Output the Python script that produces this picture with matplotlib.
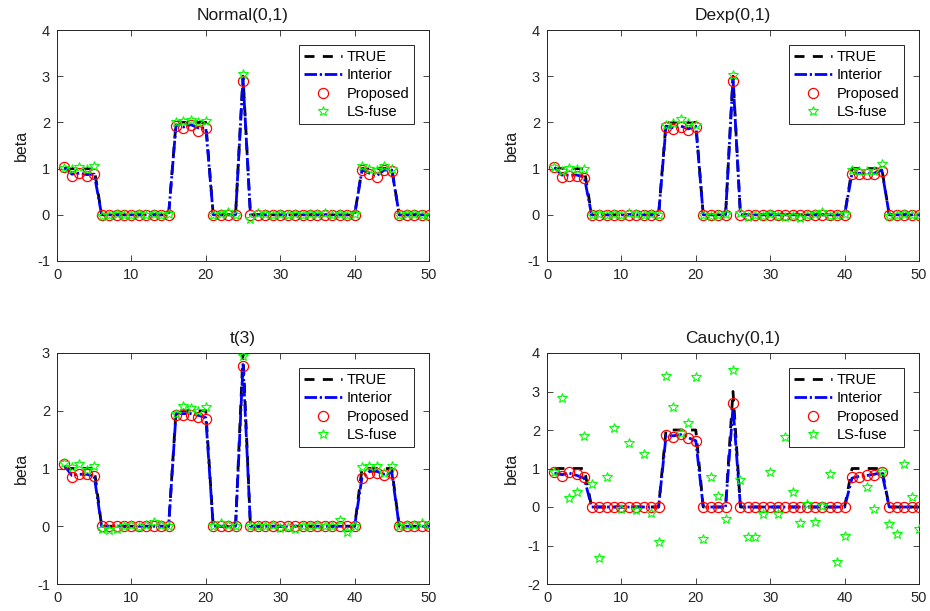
import matplotlib
matplotlib.use("Agg")
import matplotlib.pyplot as plt
import numpy as np

plt.rcParams['font.family'] = ['Liberation Sans', 'DejaVu Sans']
plt.rcParams['axes.unicode_minus'] = False

idx = list(range(1, 51))
titles = ["Normal(0,1)", "Dexp(0,1)", "t(3)", "Cauchy(0,1)"]
ylims = [(-1, 4), (-1, 4), (-1, 3), (-2, 4)]
yticks = [[-1, 0, 1, 2, 3, 4], [-1, 0, 1, 2, 3, 4], [-1, 0, 1, 2, 3], [-2, -1, 0, 1, 2, 3, 4]]
xticks = [0, 10, 20, 30, 40, 50]

beta_true = [1, 1, 1, 1, 1,
             0, 0, 0, 0, 0, 0, 0, 0, 0, 0,
             2, 2, 2, 2, 2,
             0, 0, 0, 0,
             3,
             0, 0, 0, 0, 0, 0, 0, 0, 0, 0, 0, 0, 0, 0, 0,
             1, 1, 1, 1, 1,
             0, 0, 0, 0, 0]

# Normal(0,1)
prop_normal = [1.03, 0.85, 0.91, 0.84, 0.88,
               0, 0, 0, 0, 0, 0, 0, 0, 0, 0,
               1.92, 1.87, 1.94, 1.82, 1.87,
               0, 0, 0, 0,
               2.90,
               0, 0, 0, 0, 0, 0, 0, 0, 0, 0, 0, 0, 0, 0, 0,
               0.97, 0.88, 0.81, 0.98, 0.95,
               0, 0, 0, 0, 0]
int_normal = [1.03, 0.88, 0.90, 0.87, 0.88,
              0, 0, 0, 0, 0, 0, 0, 0, 0, 0,
              1.95, 1.90, 1.95, 1.88, 1.88,
              0, 0, 0, 0,
              2.95,
              0, 0, 0, 0, 0, 0, 0, 0, 0, 0, 0, 0, 0, 0, 0,
              0.97, 0.90, 0.85, 0.97, 0.97,
              0, 0, 0, 0, 0]
ls_normal = [1.02, 1.00, 1.03, 1.00, 1.05,
             -0.03, 0.00, 0.01, -0.01, 0.00, 0.01, 0.00, 0.02, 0.00, 0.01,
             2.00, 2.02, 2.06, 2.00, 2.02,
             0.00, 0.02, 0.05, 0.00,
             3.05,
             -0.10, 0.03, 0.01, 0.00, 0.02, 0.00, 0.01, 0.00, 0.02, 0.01, 0.03, 0.00, 0.01, 0.00, 0.02,
             1.05, 1.00, 0.97, 1.05, 1.00,
             0.00, 0.01, 0.02, 0.00, -0.02]

# Dexp(0,1)
prop_dexp = [1.03, 0.82, 0.85, 0.85, 0.80,
             0, 0, 0, 0, 0, 0, 0, 0, 0, 0,
             1.90, 1.85, 1.90, 1.83, 1.90,
             0, 0, 0, 0,
             2.90,
             0, 0, 0, 0, 0, 0, 0, 0, 0, 0, 0, 0, 0, 0, 0,
             0.88, 0.88, 0.88, 0.88, 0.95,
             0, 0, 0, 0, 0]
int_dexp = [1.03, 0.86, 0.86, 0.86, 0.82,
            0, 0, 0, 0, 0, 0, 0, 0, 0, 0,
            1.92, 1.88, 1.92, 1.86, 1.92,
            0, 0, 0, 0,
            2.95,
            0, 0, 0, 0, 0, 0, 0, 0, 0, 0, 0, 0, 0, 0, 0,
            0.90, 0.90, 0.90, 0.90, 0.97,
            0, 0, 0, 0, 0]
ls_dexp = [1.03, 0.95, 1.02, 1.00, 1.00,
           0.00, 0.01, 0.00, 0.02, 0.00, 0.03, 0.01, 0.00, 0.02, 0.00,
           1.95, 1.98, 2.07, 1.98, 1.95,
           0.00, -0.02, 0.00, 0.01,
           3.03,
           0.03, -0.05, 0.00, -0.02, 0.01, -0.03, -0.05, -0.02, -0.07, 0.00, 0.01, 0.07, -0.02, 0.00, 0.01,
           0.97, 0.95, 0.95, 0.95, 1.10,
           -0.02, 0.00, 0.01, 0.00, 0.00]

# t(3)
prop_t3 = [1.07, 0.85, 0.90, 0.90, 0.87,
           0, 0, 0, 0, 0, 0, 0, 0, 0, 0,
           1.93, 1.93, 1.93, 1.90, 1.85,
           0, 0, 0, 0,
           2.77,
           0, 0, 0, 0, 0, 0, 0, 0, 0, 0, 0, 0, 0, 0, 0,
           0.83, 0.93, 0.93, 0.88, 0.92,
           0, 0, 0, 0, 0]
int_t3 = [1.05, 0.88, 0.90, 0.90, 0.87,
          0, 0, 0, 0, 0, 0, 0, 0, 0, 0,
          1.95, 1.95, 1.95, 1.92, 1.88,
          0, 0, 0, 0,
          2.80,
          0, 0, 0, 0, 0, 0, 0, 0, 0, 0, 0, 0, 0, 0, 0,
          0.85, 0.95, 0.95, 0.90, 0.93,
          0, 0, 0, 0, 0]
ls_t3 = [1.10, 1.03, 1.08, 0.98, 1.05,
         -0.05, -0.07, -0.05, 0.00, 0.02, -0.02, 0.03, 0.08, 0.03, 0.00,
         1.95, 2.08, 2.05, 2.00, 2.07,
         0.00, 0.05, 0.03, 0.00,
         2.95,
         0.00, 0.01, 0.00, 0.02, -0.03, -0.01, -0.04, 0.01, 0.00, 0.02, 0.01, 0.00, 0.10, -0.10, 0.01,
         1.02, 1.05, 1.05, 0.93, 1.05,
         0.00, 0.03, 0.02, 0.05, 0.03]

# Cauchy(0,1)
prop_cauchy = [0.90, 0.81, 0.92, 0.85, 0.77,
               0, 0, 0, 0, 0, 0, 0, 0, 0, 0,
               1.88, 1.83, 1.90, 1.80, 1.72,
               0, 0, 0, 0,
               2.70,
               0, 0, 0, 0, 0, 0, 0, 0, 0, 0, 0, 0, 0, 0, 0,
               0.78, 0.78, 0.82, 0.82, 0.92,
               0, 0, 0, 0, 0]
int_cauchy = [0.88, 0.84, 0.88, 0.82, 0.75,
              0, 0, 0, 0, 0, 0, 0, 0, 0, 0,
              1.85, 1.85, 1.88, 1.80, 1.72,
              0, 0, 0, 0,
              2.60,
              0, 0, 0, 0, 0, 0, 0, 0, 0, 0, 0, 0, 0, 0, 0,
              0.75, 0.80, 0.82, 0.85, 0.90,
              0, 0, 0, 0, 0]
ls_cauchy = [0.90, 2.83, 0.24, 0.39, 1.85,
             0.60, -1.33, 0.77, 2.06, -0.05, 1.66, -0.07, 1.37, -0.15, -0.90,
             3.40, 2.60, 1.93, 2.19, 3.38,
             -0.82, 0.77, 0.29, -0.31,
             3.55,
             0.69, -0.77, -0.79, -0.17, 0.92, -0.19, 1.82, 0.38, -0.41, 0.09, -0.39, 0.02, 0.85, -1.44, -0.75,
             2.40, 2.90, 0.53, -0.05, 0.92,
             -0.45, -0.71, 1.11, 0.27, -0.58]

props = [prop_normal, prop_dexp, prop_t3, prop_cauchy]
ints = [int_normal, int_dexp, int_t3, int_cauchy]
lss = [ls_normal, ls_dexp, ls_t3, ls_cauchy]

fig = plt.figure(figsize=(9.3, 6.11), dpi=100)
W, H = 930, 611
boxes = [(57, 30, 429, 261), (547, 30, 919, 261),
         (57, 353, 429, 584), (547, 353, 919, 584)]

for k in range(4):
    x0, y0, x1, y1 = boxes[k]
    ax = fig.add_axes([x0 / W, 1 - y1 / H, (x1 - x0) / W, (y1 - y0) / H])
    ax.plot(idx, beta_true, color='black', linestyle='--', dashes=(3.6, 3.0), lw=2, label='TRUE', zorder=2)
    ax.plot(idx, ints[k], color='blue', linestyle='-.', dashes=(4.5, 1.0, 0.8, 1.0), lw=2,
            label='Interior', zorder=3)
    ax.plot(idx, props[k], linestyle='none', marker='o', markersize=7.3, markerfacecolor='none',
            markeredgecolor='red', markeredgewidth=0.9, label='Proposed', zorder=4)
    ax.plot(idx, lss[k], linestyle='none', marker='*', markersize=7, markerfacecolor='none',
            markeredgecolor='#00ff00', markeredgewidth=0.8, label='LS-fuse', zorder=5)
    ax.set_xlim(0, 50)
    ax.set_ylim(*ylims[k])
    ax.set_xticks(xticks)
    ax.set_yticks(yticks[k])
    ax.tick_params(direction='in', length=4, width=0.6, top=True, right=True,
                   labelsize=10.5, colors='#262626', pad=5)
    for s in ax.spines.values():
        s.set_linewidth(0.7)
        s.set_color('#262626')
    ax.set_title(titles[k], fontsize=12.5, pad=7, color='#1a1a1a')
    ax.set_ylabel('beta', fontsize=11.5, color='#1a1a1a', labelpad=6)
    leg = ax.legend(loc='upper right', bbox_to_anchor=(0.960, 0.935), borderaxespad=0,
                    fontsize=10.5, frameon=True, fancybox=False, framealpha=1,
                    edgecolor='#262626', handlelength=2.6, handletextpad=0.3,
                    labelspacing=0.3, borderpad=0.35)
    leg.get_frame().set_linewidth(0.7)
    leg.set_zorder(10)

fig.savefig('out.png', dpi=100)
